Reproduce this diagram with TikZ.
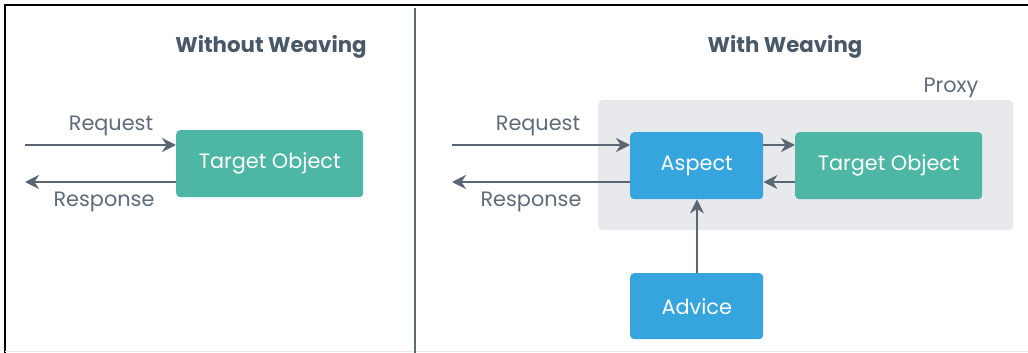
\documentclass[tikz,border=0pt]{standalone}
\usepackage{fontspec}
\setmainfont{Poppins}
\usetikzlibrary{arrows.meta}
\definecolor{teal1}{HTML}{4DB6A4}
\definecolor{blue1}{HTML}{36A5DE}
\definecolor{linegray}{HTML}{5B6673}
\definecolor{txtgray}{HTML}{5F6B78}
\definecolor{titlegray}{HTML}{4B5867}
\definecolor{proxyfill}{HTML}{E8E9ED}
\definecolor{divgray}{HTML}{5D6B78}
\tikzset{
  box/.style={draw=none, rounded corners=4pt, text=white, font=\fontsize{20.8}{24}\selectfont, inner sep=0pt, anchor=north west},
  tbox/.style={box, fill=teal1},
  bbox/.style={box, fill=blue1},
  lbl/.style={text=txtgray, font=\fontsize{20.8}{24}\selectfont, inner sep=0pt},
  ttl/.style={text=titlegray, font=\bfseries\fontsize{21.3}{25}\selectfont, inner sep=0pt},
  conn/.style={draw=linegray, line width=2.2pt, -{Stealth[length=14pt, width=14pt, inset=4.5pt]}},
}
\begin{document}
\begin{tikzpicture}[x=1pt, y=-1pt]
\useasboundingbox[fill=white] (0,0) rectangle (1028,353);
% frame
\draw[black, line width=2pt] (5,353) -- (5,5.5) -- (1028,5.5);
\draw[black!8, line width=1pt] (5,351.5) -- (1028,351.5);
\draw[divgray, line width=2.3pt] (415,8) -- (415,353);
% left panel
\node[ttl] (t1) at (271,47) {Without Weaving};
\node[tbox, minimum width=187pt, minimum height=67pt] (tg1) at (176,130) {Target Object};
\coordinate (l1a) at (25,145);
\coordinate (l1b) at (25,182);
\draw[conn] (l1a) -- (tg1.west |- l1a);
\draw[conn] (tg1.west |- l1b) -- (l1b);
\node[lbl] (rq1) at (111,126) {Request};
\node[lbl] (rs1) at (104,202) {Response};
% right panel
\node[ttl] (t2) at (785,47) {With Weaving};
\node[draw=none, fill=proxyfill, rounded corners=4pt, minimum width=415pt, minimum height=130pt, anchor=north west, inner sep=0pt] (px) at (598,100) {};
\node[lbl] (pxl) at (951,88) {Proxy};
\node[bbox, minimum width=133pt, minimum height=67pt] (asp) at (630,132) {Aspect};
\node[tbox, minimum width=187pt, minimum height=67pt] (tg2) at (795,132) {Target Object};
\node[bbox, minimum width=133pt, minimum height=66pt] (adv) at (630,273) {Advice};
\coordinate (r1a) at (452,145);
\coordinate (r1b) at (452,182);
\draw[conn] (r1a) -- (asp.west |- r1a);
\draw[conn] (asp.west |- r1b) -- (r1b);
\draw[conn] (asp.east |- r1a) -- (tg2.west |- r1a);
\draw[conn] (tg2.west |- r1b) -- (asp.east |- r1b);
\draw[conn] (adv.north -| 697,0) -- (asp.south -| 697,0);
\node[lbl] (rq2) at (538,126) {Request};
\node[lbl] (rs2) at (531,202) {Response};
\end{tikzpicture}
\end{document}
